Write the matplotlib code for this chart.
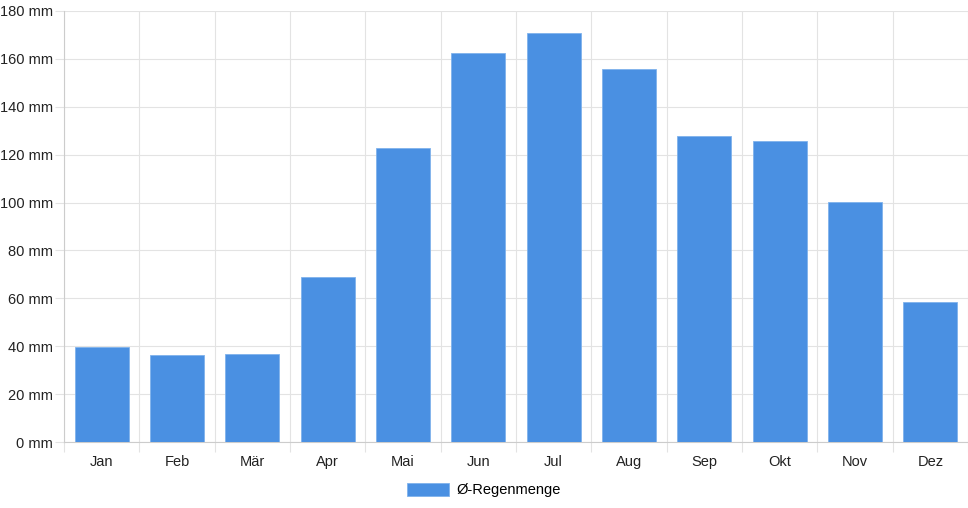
import numpy as np
import matplotlib.pyplot as plt
from matplotlib.patches import Patch

months = ['Jan', 'Feb', 'Mär', 'Apr', 'Mai', 'Jun', 'Jul', 'Aug', 'Sep', 'Okt', 'Nov', 'Dez']
rain = [39.6, 36.2, 36.7, 68.8, 122.8, 162.4, 171.0, 155.8, 127.6, 125.5, 100.3, 58.3]
series_name = 'Ø-Regenmenge'
yticks = np.arange(0, 181, 20)

bar_color = '#4a90e2'
grid_color = '#e3e3e3'

plt.rcParams['font.family'] = ['Liberation Sans', 'DejaVu Sans']

fig = plt.figure(figsize=(9.68, 5.08), dpi=100)
ax = fig.add_axes([64/968, 66/508, 904/968, 431/508])

x = np.arange(len(months))
ax.bar(x, rain, width=0.72, color=bar_color, edgecolor='#7fb2ec', linewidth=0.6, zorder=3)

ax.set_xlim(-0.5, len(months) - 0.5)
ax.set_ylim(0, 180)
ax.set_yticks(yticks)
ax.set_yticklabels([f'{v} mm' for v in yticks])
ax.set_xticks(x)
ax.set_xticklabels(months)
ax.set_xticks(np.arange(-0.5, len(months), 1), minor=True)

# tick lengths/pads are in points (1px = 0.72pt at 100 dpi)
ax.tick_params(axis='x', which='major', length=0, pad=9.5, labelsize=10.5, colors='#222222')
ax.tick_params(axis='x', which='minor', length=7, color=grid_color, width=0.8)
ax.tick_params(axis='y', length=6.5, color=grid_color, width=0.8, pad=1.5, labelsize=10.5, labelcolor='#222222')

ax.grid(axis='y', which='major', color=grid_color, linewidth=0.8, zorder=0)
ax.grid(axis='x', which='minor', color=grid_color, linewidth=0.8, zorder=0)
ax.grid(axis='x', which='major', visible=False)

for s in ['top', 'right']:
    ax.spines[s].set_visible(False)
ax.spines['left'].set_color('#cccccc')
ax.spines['bottom'].set_color('#cccccc')
ax.spines['left'].set_linewidth(0.8)
ax.spines['bottom'].set_linewidth(0.8)

handle = Patch(facecolor=bar_color, edgecolor='#7fb2ec', linewidth=0.6)
fig.legend([handle], [series_name], loc='center', bbox_to_anchor=(0.5, 1 - 490/508),
           frameon=False, fontsize=10.5, handlelength=2.9, handleheight=1.0, handletextpad=0.5)

fig.savefig('out.png', dpi=100)
